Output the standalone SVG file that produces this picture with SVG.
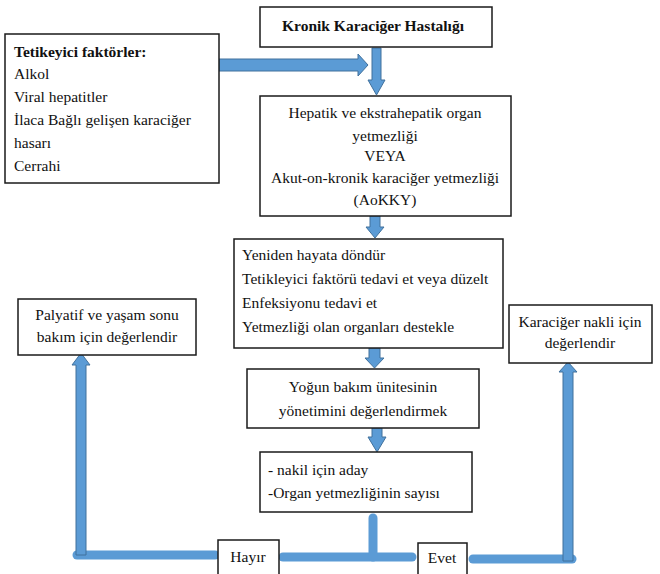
<svg xmlns="http://www.w3.org/2000/svg" width="660" height="574" viewBox="0 0 660 574">
<style>
.box{fill:#fff;stroke:#1a1a1a;stroke-width:1.5}
.arr{fill:#5B9BD5;stroke:#41719C;stroke-width:1}
.ln{stroke:#5B9BD5;stroke-width:9;stroke-linecap:round;fill:none}
</style>
<rect width="660" height="574" fill="#fff"/>
<g id="connectors">
<polygon class="arr" points="219,59 358,59 358,54 368,65 358,76 358,71 219,71"/>
<polygon class="arr" points="372,48 381,48 381,80 385,80 376.5,95 368,80 372,80"/>
<polygon class="arr" points="370,216 380,216 380,227 384,227 375,238 366,227 370,227"/>
<polygon class="arr" points="369,348 380,348 380,358 384,358 374.5,368 365,358 369,358"/>
<polygon class="arr" points="372,428 382,428 382,437 386,437 377,452 368,437 372,437"/>
<line class="ln" x1="77" y1="555" x2="215" y2="555"/>
<polygon class="arr" points="76,555 86,555 86,365 90,365 81,353 72,365 76,365"/>
<line class="ln" x1="283" y1="557" x2="412" y2="557"/>
<line class="ln" x1="373" y1="518" x2="373" y2="557"/>
<line class="ln" x1="473" y1="559" x2="572" y2="559"/>
<polygon class="arr" points="563,561 573,561 573,372 577,372 568,362 559,372 563,372"/>
</g>
<g font-family="Liberation Serif, Times New Roman, serif" font-size="15.5" fill="#111">
<g id="kronik">
<rect class="box" x="260" y="7" width="232" height="40"/>
<text x="373" y="31" text-anchor="middle" font-weight="bold">Kronik Karaciğer Hastalığı</text>
</g>
<g id="tetikleyici">
<rect class="box" x="5" y="34" width="214" height="149"/>
<text x="14" y="57" font-weight="bold">Tetikeyici faktörler:</text>
<text x="14" y="79">Alkol</text>
<text x="14" y="102">Viral hepatitler</text>
<text x="14" y="125">İlaca Bağlı gelişen karaciğer</text>
<text x="14" y="148">hasarı</text>
<text x="14" y="171">Cerrahi</text>
</g>
<g id="hepatik" text-anchor="middle">
<rect class="box" x="260" y="96" width="251" height="120"/>
<text x="385" y="118">Hepatik ve ekstrahepatik organ</text>
<text x="385" y="141">yetmezliği</text>
<text x="385" y="161">VEYA</text>
<text x="385" y="183">Akut-on-kronik karaciğer yetmezliği</text>
<text x="385" y="205">(AoKKY)</text>
</g>
<g id="yeniden">
<rect class="box" x="234" y="239" width="269" height="109"/>
<text x="242" y="260">Yeniden hayata döndür</text>
<text x="242" y="284">Tetikleyici faktörü tedavi et veya düzelt</text>
<text x="242" y="308">Enfeksiyonu tedavi et</text>
<text x="242" y="332">Yetmezliği olan organları destekle</text>
</g>
<g id="palyatif" text-anchor="middle">
<rect class="box" x="18" y="299" width="178" height="56"/>
<text x="107" y="320">Palyatif ve yaşam sonu</text>
<text x="107" y="342">bakım için değerlendir</text>
</g>
<g id="nakli" text-anchor="middle">
<rect class="box" x="509" y="305" width="143" height="58"/>
<text x="580" y="327">Karaciğer nakli için</text>
<text x="580" y="348">değerlendir</text>
</g>
<g id="yogun" text-anchor="middle">
<rect class="box" x="247" y="369" width="232" height="59"/>
<text x="363" y="392">Yoğun bakım ünitesinin</text>
<text x="363" y="416">yönetimini değerlendirmek</text>
</g>
<g id="aday">
<rect class="box" x="260" y="452" width="212" height="60"/>
<text x="268" y="475">- nakil için aday</text>
<text x="268" y="498">-Organ yetmezliğinin sayısı</text>
</g>
<g id="hayir" text-anchor="middle">
<rect class="box" x="218" y="540" width="61" height="40"/>
<text x="248" y="562">Hayır</text>
</g>
<g id="evet" text-anchor="middle">
<rect class="box" x="418" y="543" width="49" height="37"/>
<text x="442" y="563">Evet</text>
</g>
</g>
</svg>
